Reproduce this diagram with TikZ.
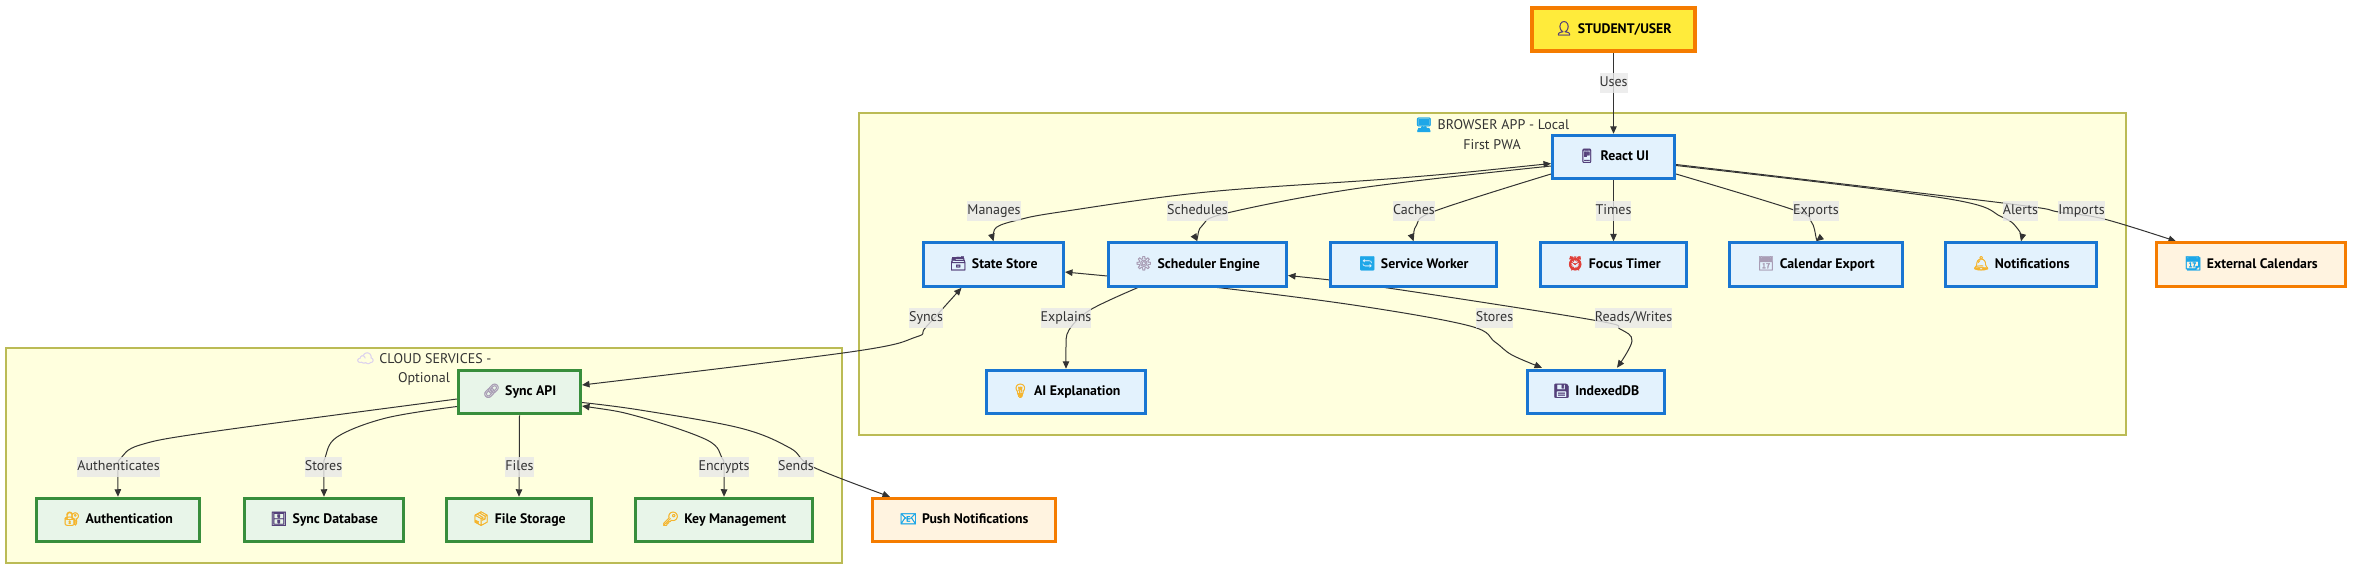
\documentclass[tikz,border=0pt]{standalone}
\usepackage{fontspec}
\setmainfont{PT Sans}
\newfontfamily\emo[FakeBold=2.5]{Noto Emoji}
\usetikzlibrary{calc,arrows.meta}
\pgfdeclarelayer{framelayer}
\pgfdeclarelayer{edgelayer}
\pgfdeclarelayer{labellayer}
\pgfsetlayers{framelayer,edgelayer,main,labellayer}
\definecolor{edgec}{HTML}{333333}
\definecolor{frameF}{HTML}{FFFFDE}
\definecolor{frameD}{HTML}{BBBB55}
\definecolor{blueF}{HTML}{E3F2FD}
\definecolor{blueD}{HTML}{1976D2}
\definecolor{greenF}{HTML}{E8F5E9}
\definecolor{greenD}{HTML}{388E3C}
\definecolor{orangeF}{HTML}{FFF3E0}
\definecolor{orangeD}{HTML}{F57C00}
\definecolor{userF}{HTML}{FFEB3B}
\definecolor{iconP}{HTML}{54407A}
\definecolor{iconY}{HTML}{F5B52E}
\definecolor{iconG}{HTML}{A99DB5}
\definecolor{iconB}{HTML}{1EA7E8}
\definecolor{iconR}{HTML}{E0403A}
\definecolor{iconL}{HTML}{DDD3EE}
\newcommand{\ic}[2]{{\color{#1}\emo\symbol{"#2}}\hspace{5pt}}
\tikzset{
  fbox/.style={draw=frameD,fill=frameF,line width=1.2pt,inner sep=0pt},
  ftitle/.style={font=\fontsize{14}{19.6}\selectfont,text=edgec,align=center,inner sep=0pt},
  nbox/.style={line width=3pt,inner sep=0pt,minimum height=43.5pt,text=black,text height=11pt,text depth=4pt,font=\fontsize{13.8}{16}\selectfont\bfseries},
  blue box/.style={nbox,draw=blueD,fill=blueF},
  green box/.style={nbox,draw=greenD,fill=greenF},
  ext box/.style={nbox,draw=orangeD,fill=orangeF},
  user box/.style={nbox,draw=orangeD,fill=userF,line width=4pt},
  edge/.style={draw=edgec,line width=1pt,-{Triangle[length=7.5pt,width=6.5pt]}},
  twoway/.style={edge,{Triangle[length=7.5pt,width=6.5pt]}-{Triangle[length=7.5pt,width=6.5pt]}},
  lab/.style={fill=gray!18,fill opacity=.8,text opacity=1,text=edgec,inner xsep=0pt,inner ysep=0pt,minimum height=20pt,text height=11pt,text depth=4pt,font=\fontsize{14}{16}\selectfont},
  curve/.style={smooth,tension=.6},
}
\begin{document}
\begin{tikzpicture}[x=1pt,y=-1pt]
\useasboundingbox (0,0) rectangle (2368,574);
\begin{pgfonlayer}{framelayer}
\node[fbox,minimum width=1267pt,minimum height=322pt] (browser) at (1492.5,274) {};
\node[fbox,minimum width=836pt,minimum height=215pt] (cloud) at (424,455.5) {};
\node[ftitle] (browsertitle) at (1492,133.5) {\ic{iconB}{1F5A5}BROWSER APP - Local\\First PWA};
\node[ftitle] (cloudtitle) at (424,369) {\ic{iconL}{2601}CLOUD SERVICES -\\Optional};
\end{pgfonlayer}

\node[user box,minimum width=163pt] (user) at (1613.5,29.5) {\ic{iconP}{1F464}STUDENT/USER};
\node[blue box,minimum width=122pt] (react) at (1613.5,157) {\ic{iconP}{1F4F1}React UI};
\node[blue box,minimum width=140pt] (state) at (993.5,264.5) {\ic{iconP}{1F5C3}State Store};
\node[blue box,minimum width=178pt] (sched) at (1197.5,264.5) {\ic{iconG}{2699}Scheduler Engine};
\node[blue box,minimum width=166pt] (service) at (1413.5,264.5) {\ic{iconB}{1F504}Service Worker};
\node[blue box,minimum width=146pt] (focus) at (1613.5,264.5) {\ic{iconR}{23F0}Focus Timer};
\node[blue box,minimum width=173pt] (calendar) at (1816,264.5) {\ic{iconG}{1F4C5}Calendar Export};
\node[blue box,minimum width=151pt] (notif) at (2021,264.5) {\ic{iconY}{1F514}Notifications};
\node[ext box,minimum width=189pt] (external) at (2251,264.5) {\ic{iconB}{1F4C6}External Calendars};
\node[blue box,minimum width=159pt] (ai) at (1066,392) {\ic{iconY}{1F4A1}AI Explanation};
\node[blue box,minimum width=137pt] (indexed) at (1596,392) {\ic{iconP}{1F4BE}IndexedDB};
\node[green box,minimum width=122pt] (api) at (519.5,392) {\ic{iconG}{1F517}Sync API};
\node[green box,minimum width=163pt] (auth) at (118,520) {\ic{iconY}{1F510}Authentication};
\node[green box,minimum width=159pt] (syncdb) at (324,520) {\ic{iconP}{1F5C4}Sync Database};
\node[green box,minimum width=145pt] (files) at (519,520) {\ic{iconY}{1F4E6}File Storage};
\node[green box,minimum width=177pt] (keys) at (724,520) {\ic{iconY}{1F511}Key Management};
\node[ext box,minimum width=183pt] (push) at (964,520) {\ic{iconB}{1F4E7}Push Notifications};

\begin{pgfonlayer}{edgelayer}
\draw[edge] (user.south) -- (react.north);
\draw[twoway] plot[curve] coordinates {($(react.west)+(0,6.5)$) (1400,178) (1207,192) (1060,212) (1018,220) ($(state.north)+(3,-14)$) ($(state.north)+(0,-4)$) (state.north)};
\draw[edge] plot[curve] coordinates {($(react.west)+(0,9)$) (1360,188) (1227,213) ($(sched.north)+(5,-16)$) ($(sched.north)+(0,-4)$) (sched.north)};
\draw[edge] plot[curve] coordinates {($(react.west)+(0,17)$) (1435,211) ($(service.north)+(3,-16)$) ($(service.north)+(0,-4)$) (service.north)};
\draw[edge] (react.south) -- (focus.north);
\draw[edge] plot[curve] coordinates {($(react.east)+(0,17)$) (1794,210) ($(calendar.north)+(-5,-20)$) ($(calendar.north)+(0,-4)$) (calendar.north)};
\draw[edge] plot[curve] coordinates {($(react.east)+(0,8.5)$) (1943,198) (2002,217) ($(notif.north)+(-3,-12)$) ($(notif.north)+(0,-4)$) (notif.north)};
\draw[edge] plot[curve] coordinates {($(react.east)+(0,7.5)$) (2003,203) (2059,212) (2104,219) ($(external.north)+(-75,0)$)};
\draw[edge] plot[curve] coordinates {($(sched.south)+(-60,0)$) (1090,310) (1069,330) ($(ai.north)+(0,-22)$) ($(ai.north)+(0,-4)$) (ai.north)};
\draw[twoway] plot[curve] coordinates {($(state.east)+(0,7.5)$) (1213,287) (1360,306) (1470,326) (1495,342) (1512,355) ($(indexed.north)+(-54,-1)$)};
\draw[twoway] plot[curve] coordinates {($(sched.east)+(0,11)$) (1388,288) (1593,320) (1620,329) (1632,341) ($(indexed.north)+(21,-1)$)};
\draw[twoway] plot[curve] coordinates {($(state.south)+(-32,0)$) (926,327) (916,337) (850,352) ($(api.east)+(0,-7)$)};
\draw[edge] plot[curve] coordinates {($(api.west)+(0,7)$) (210,432) (140,445) (121,458) ($(auth.north)+(0,-30)$) (auth.north)};
\draw[edge] plot[curve] coordinates {($(api.west)+(0,14.5)$) (386,418) (337,437) (325,458) ($(syncdb.north)+(0,-30)$) (syncdb.north)};
\draw[edge] (api.south) -- (files.north);
\draw[twoway] plot[curve] coordinates {($(api.east)+(0,14)$) (640,417) (707,440) (722,458) ($(keys.north)+(0,-30)$) (keys.north)};
\draw[edge] plot[curve] coordinates {($(api.east)+(0,10.5)$) (640,410) (740,428) (790,448) (813,467) ($(push.north)+(-74,0)$)};
\end{pgfonlayer}

\begin{pgfonlayer}{labellayer}
\node[lab] (l1) at (1613.5,82.5) {Uses};
\node[lab] (l2) at (994,210.5) {Manages};
\node[lab] (l3) at (1197.5,210.5) {Schedules};
\node[lab] (l4) at (1414,210.5) {Caches};
\node[lab] (l5) at (1613.5,210.5) {Times};
\node[lab] (l6) at (1816,210.5) {Exports};
\node[lab] (l7) at (2020.5,210.5) {Alerts};
\node[lab] (l8) at (2081.5,210.5) {Imports};
\node[lab] (l9) at (926,318) {Syncs};
\node[lab] (l10) at (1066,318) {Explains};
\node[lab] (l11) at (1494.5,318) {Stores};
\node[lab] (l12) at (1633.5,318) {Reads/Writes};
\node[lab] (l13) at (118.5,467) {Authenticates};
\node[lab] (l14) at (323.5,467) {Stores};
\node[lab] (l15) at (519.5,467) {Files};
\node[lab] (l16) at (724,467) {Encrypts};
\node[lab] (l17) at (796,467) {Sends};
\end{pgfonlayer}
\end{tikzpicture}
\end{document}
